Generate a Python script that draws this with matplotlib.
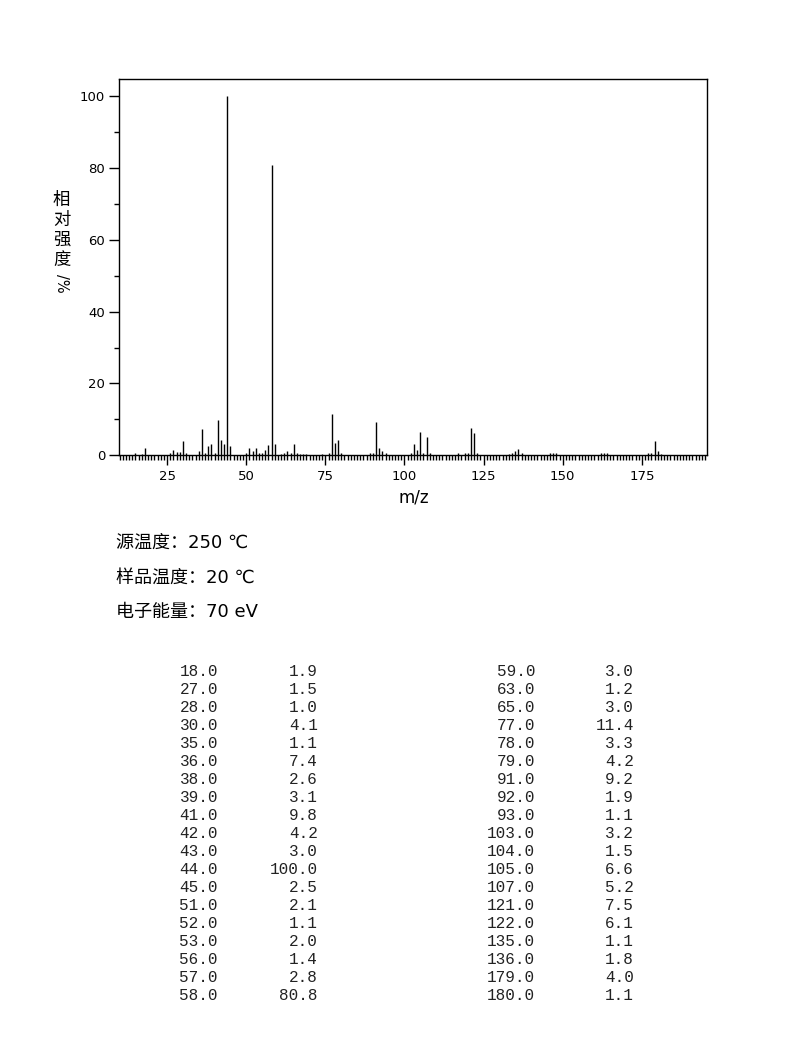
import numpy as np
import matplotlib.pyplot as plt
from matplotlib.ticker import MultipleLocator

# Peak list (table values, m/z and relative intensity %)
mz = [18.0, 27.0, 28.0, 30.0, 35.0, 36.0, 38.0, 39.0, 41.0, 42.0, 43.0, 44.0, 45.0,
      51.0, 52.0, 53.0, 56.0, 57.0, 58.0,
      59.0, 63.0, 65.0, 77.0, 78.0, 79.0, 91.0, 92.0, 93.0, 103.0, 104.0, 105.0,
      107.0, 121.0, 122.0, 135.0, 136.0, 179.0, 180.0]
intensity = [1.9, 1.5, 1.0, 4.1, 1.1, 7.4, 2.6, 3.1, 9.8, 4.2, 3.0, 100.0, 2.5,
             2.1, 1.1, 2.0, 1.4, 2.8, 80.8,
             3.0, 1.2, 3.0, 11.4, 3.3, 4.2, 9.2, 1.9, 1.1, 3.2, 1.5, 6.6,
             5.2, 7.5, 6.1, 1.1, 1.8, 4.0, 1.1]

# small peaks below 1 % (estimated from the plot)
small_mz = [15, 17, 26, 29, 31, 37, 40, 50, 54, 55, 61, 62, 64, 66, 67, 68, 69,
            74, 76, 80, 89, 90, 94, 102, 106, 108, 117, 119, 120, 123, 133, 134,
            137, 146, 147, 148, 162, 163, 164, 177, 178, 181]
small_int = [0.7, 0.4, 0.5, 0.8, 0.5, 0.6, 0.7, 0.5, 0.5, 0.6, 0.4, 0.6, 0.6, 0.5, 0.4, 0.4, 0.4,
             0.4, 0.6, 0.6, 0.5, 0.6, 0.5, 0.7, 0.7, 0.5, 0.6, 0.5, 0.6, 0.6, 0.4, 0.5,
             0.5, 0.6, 0.7, 0.5, 0.5, 0.6, 0.5, 0.5, 0.6, 0.4]

info = ["源温度：250 ℃", "样品温度：20 ℃", "电子能量：70 eV"]

cjk = ['Noto Sans CJK SC', 'DejaVu Sans']

fig = plt.figure(figsize=(7.94, 10.49), dpi=100)
ax = fig.add_axes([0.1503, 0.5660, 0.7406, 0.3584])

ax.vlines(small_mz, 0, small_int, color='black', lw=1)
ax.vlines(mz, 0, intensity, color='black', lw=1)

ax.set_xlim(9.9, 195.7)
ax.set_ylim(0, 104.7)
ax.xaxis.set_major_locator(MultipleLocator(25))
ax.xaxis.set_minor_locator(MultipleLocator(1))
ax.yaxis.set_major_locator(MultipleLocator(20))
ax.yaxis.set_minor_locator(MultipleLocator(10))
ax.tick_params(axis='x', which='major', length=7.5, width=1, pad=3, labelsize=9.5)
ax.tick_params(axis='x', which='minor', length=3.5, width=1)
ax.tick_params(axis='y', which='major', length=7.2, width=1, pad=3, labelsize=9.5)
ax.tick_params(axis='y', which='minor', length=3.8, width=1)
for s in ax.spines.values():
    s.set_linewidth(1)
ax.set_xlabel('m/z', fontsize=12, labelpad=4)

# y label: stacked characters
for i, ch in enumerate("相对强度"):
    fig.text(0.0775, 1 - (200 + i * 20) / 1049, ch, family=cjk, fontsize=12.5,
             ha='center', va='center')
fig.text(0.0775, 1 - 283 / 1049, "/%", fontsize=10.5, rotation=-90,
         ha='center', va='center')

# info lines
for i, line in enumerate(info):
    fig.text(116 / 794, 1 - (543 + i * 34.5) / 1049, line,
             family=['DejaVu Sans', 'Noto Sans CJK SC'],
             fontsize=13, ha='left', va='center')

# peak table
n = len(mz) // 2
for i in range(len(mz)):
    col = i // n
    row = i % n
    y = 1 - (672 + row * 17.95) / 1049
    xm = [218, 535][col] / 794
    xv = [318, 634][col] / 794
    fig.text(xm, y, f"{mz[i]:.1f}", family='Liberation Mono', fontsize=11.5,
             ha='right', va='center', color='#222222')
    fig.text(xv, y, f"{intensity[i]:.1f}", family='Liberation Mono', fontsize=11.5,
             ha='right', va='center', color='#222222')

fig.savefig('out.png', dpi=100)
